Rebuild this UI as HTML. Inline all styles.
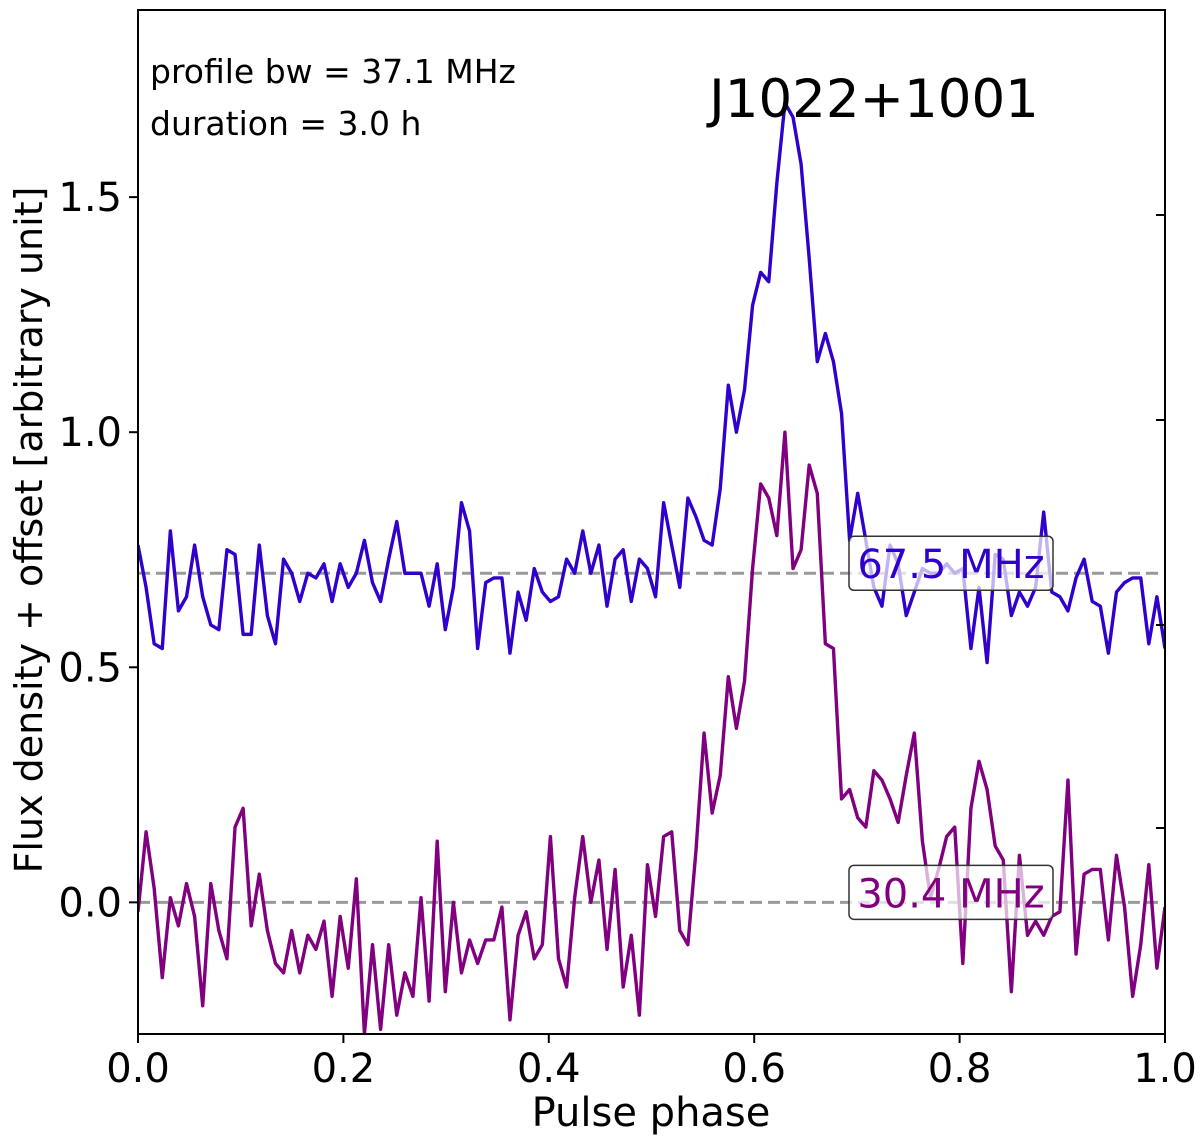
<!DOCTYPE html>
<html><head><meta charset="utf-8"><style>
html,body{margin:0;padding:0;background:#fff;}
svg text{font-family:"DejaVu Sans","Liberation Sans",sans-serif;}
</style></head><body>
<svg id="chart" width="1200" height="1140" xmlns="http://www.w3.org/2000/svg">
<g id="plot"></g>
</svg>
<script>
const phaseRange = [0, 1];
const yRange = [-0.28, 1.898];
const yTicks = [0.0, 0.5, 1.0, 1.5];
const yTickLabels = ["0.0", "0.5", "1.0", "1.5"];
const xTicks = [0, 0.2, 0.4, 0.6, 0.8, 1.0];
const xTickLabels = ["0.0", "0.2", "0.4", "0.6", "0.8", "1.0"];
const offsets = [0.7, 0.0];
const seriesLabels = ["67.5 MHz", "30.4 MHz"];
const blueValues = [0.76,0.67,0.55,0.54,0.79,0.62,0.65,0.76,0.65,0.59,0.58,0.75,0.74,0.57,0.57,0.76,0.61,0.55,0.73,0.70,0.64,0.70,0.69,0.72,0.64,0.72,0.67,0.70,0.77,0.68,0.64,0.73,0.81,0.70,0.70,0.70,0.63,0.72,0.58,0.67,0.85,0.79,0.54,0.68,
0.69,0.69,0.53,0.66,0.60,0.71,0.66,0.64,0.65,0.73,0.70,0.79,0.70,0.76,0.63,0.73,0.75,0.64,0.73,0.71,0.65,0.85,0.76,0.67,0.86,0.82,0.77,0.76,0.88,1.10,1.00,1.09,1.27,1.34,1.32,1.53,1.70,1.67,1.57,1.37,1.15,1.21,1.15,1.04,
0.77,0.87,0.77,0.67,0.63,0.76,0.72,0.61,0.66,0.71,0.70,0.70,0.72,0.70,0.71,0.54,0.67,0.51,0.74,0.73,0.61,0.66,0.63,0.67,0.83,0.66,0.65,0.62,0.69,0.73,0.64,0.63,0.53,0.66,0.68,0.69,0.69,0.55,0.65,0.54];
const purpleValues = [-0.02,0.15,0.03,-0.16,0.01,-0.05,0.04,-0.03,-0.22,0.04,-0.06,-0.12,0.16,0.20,-0.05,0.06,-0.06,-0.13,-0.15,-0.06,-0.15,-0.07,-0.10,-0.04,-0.20,-0.03,-0.14,0.05,-0.28,-0.09,-0.27,-0.09,-0.24,-0.15,-0.20,0.01,-0.21,0.13,-0.19,0.00,-0.15,-0.08,-0.13,-0.08,
-0.08,-0.01,-0.25,-0.07,-0.02,-0.12,-0.09,0.14,-0.12,-0.18,0.01,0.14,0.00,0.09,-0.10,0.07,-0.18,-0.07,-0.24,0.08,-0.03,0.14,0.15,-0.06,-0.09,0.11,0.36,0.19,0.27,0.48,0.37,0.47,0.71,0.89,0.86,0.78,1.00,0.71,0.75,0.93,0.87,0.55,0.54,
0.22,0.24,0.18,0.16,0.28,0.26,0.22,0.17,0.27,0.36,0.13,0.01,0.07,0.14,0.16,-0.13,0.20,0.30,0.24,0.12,0.09,-0.19,0.10,-0.07,-0.04,-0.07,-0.03,-0.02,0.26,-0.11,0.06,0.07,0.07,-0.08,0.10,-0.01,-0.20,-0.09,0.08,-0.14,-0.01];

const L=138,R=1165,T=10,B=1034;
const xS=v=>L+(v-phaseRange[0])/(phaseRange[1]-phaseRange[0])*(R-L);
const yS=v=>B-(v-yRange[0])/(yRange[1]-yRange[0])*(B-T);
const NS="http://www.w3.org/2000/svg";
const g=document.getElementById('plot');
function mk(tag,attrs,parent){const e=document.createElementNS(NS,tag);for(const k in attrs)e.setAttribute(k,attrs[k]);(parent||g).appendChild(e);return e;}

const defs=mk('defs',{});
const cp=mk('clipPath',{id:'clip'},defs);
mk('rect',{x:L,y:T,width:R-L,height:B-T},cp);

offsets.forEach((o,i)=>{
  const l=mk('line',{x1:L,x2:R,y1:yS(o),y2:yS(o),stroke:'#999','stroke-width':3,'stroke-dasharray':'12,6'});
  
  
});

function drawSeries(vals,color,name){
  const n=vals.length;
  const pts=vals.map((v,i)=>xS(i/(n-1))+','+yS(v)).join(' ');
  const p=mk('polyline',{points:pts,fill:'none',stroke:color,'stroke-width':3.4,'stroke-linejoin':'round','clip-path':'url(#clip)'});
  
  
}
drawSeries(purpleValues,'#800080','series-30mhz-line');
drawSeries(blueValues,'#3000cc','series-67mhz-line');

const boxColors=['#3000cc','#800080'];
offsets.forEach((o,i)=>{
  const y=yS(o);
  const r=mk('rect',{x:849,y:y-37,width:204,height:54,rx:5,fill:'rgba(255,255,255,0.7)',stroke:'#333','stroke-width':1.5});
  
  
  const t=mk('text',{x:951,y:y+5,'text-anchor':'middle','font-size':40,fill:boxColors[i]});
  t.textContent=seriesLabels[i];
  
  
});

const fr=mk('rect',{x:L,y:T,width:R-L,height:B-T,fill:'none',stroke:'#000','stroke-width':2});



yTicks.forEach((v,i)=>{
  const y=yS(v);
  mk('line',{x1:L-9,x2:L,y1:y,y2:y,stroke:'#000','stroke-width':2});
  const t=mk('text',{x:L-16,y:y+14,'text-anchor':'end','font-size':40});
  t.textContent=yTickLabels[i];
  
  
});
[215,420,625,828].forEach(y=>mk('line',{x1:R-9,x2:R,y1:y,y2:y,stroke:'#000','stroke-width':2}));
xTicks.forEach((v,i)=>{
  const x=xS(v);
  mk('line',{x1:x,x2:x,y1:B,y2:B+9,stroke:'#000','stroke-width':2});
  const t=mk('text',{x:x,y:B+48,'text-anchor':'middle','font-size':40});
  t.textContent=xTickLabels[i];
  
  
});

const xl=mk('text',{x:651,y:1126,'text-anchor':'middle','font-size':40});
xl.textContent='Pulse phase';


const yl=mk('text',{x:0,y:0,'text-anchor':'middle','font-size':38,transform:'translate(42,530) rotate(-90)'});
yl.textContent='Flux density + offset [arbitrary unit]';



const ti=mk('text',{x:874,y:117,'text-anchor':'middle','font-size':53});
ti.textContent='J1022+1001';


const a1=mk('text',{x:150,y:83,'font-size':33});
a1.textContent='profile bw = 37.1 MHz';


const a2=mk('text',{x:150,y:135,'font-size':33});
a2.textContent='duration = 3.0 h';


</script>
</body></html>
